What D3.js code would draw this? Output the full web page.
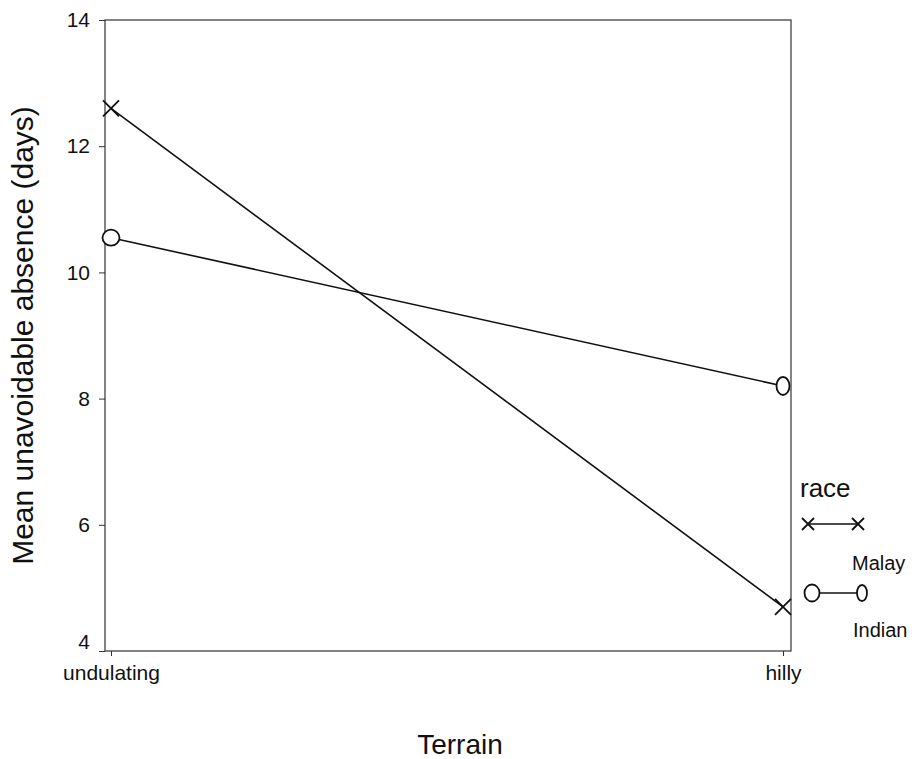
<!DOCTYPE html>
<html><head><meta charset="utf-8">
<script src="https://cdn.jsdelivr.net/npm/d3@7"></script>
<style>body{margin:0;background:#fff;} svg{display:block;font-family:"Liberation Sans",Arial,sans-serif;}</style>
</head><body>
<script>
const terrain = ["undulating", "hilly"];
const malay = [12.6, 4.7];
const indian = [10.55, 8.2];
const yTicks = [4, 6, 8, 10, 12, 14];
const seriesNames = ["Malay", "Indian"];

const W = 918, H = 759;
const mLeft = 105, mRight = 791, mTop = 20, mBottom = 651;
const FONT = "Liberation Sans, Arial, sans-serif";
const svg = d3.select("body").append("svg").attr("width", W).attr("height", H);

const x = d3.scalePoint().domain(terrain).range([mLeft + 6, mRight - 8]).padding(0);
const y = d3.scaleLinear().domain([4, 14]).range([mBottom, mTop]);

// frame
svg.append("rect").attr("x", mLeft).attr("y", mTop).attr("width", mRight - mLeft).attr("height", mBottom - mTop)
  .attr("fill", "none").attr("stroke", "#333").attr("stroke-width", 1.2);

const yAxis = svg.append("g").attr("transform", `translate(${mLeft},0)`)
  .call(d3.axisLeft(y).tickValues(yTicks).tickSize(6).tickPadding(9).tickFormat(d3.format("d")));
yAxis.select(".domain").remove();
yAxis.selectAll("text").attr("font-size", 21).attr("fill", "#111").attr("font-family", FONT)
  .attr("dy", d => d === 4 ? "-0.1em" : "0.32em");
yAxis.selectAll("line").attr("stroke", "#333");

const xAxis = svg.append("g").attr("transform", `translate(0,${mBottom})`)
  .call(d3.axisBottom(x).tickSize(5).tickPadding(9));
xAxis.select(".domain").remove();
xAxis.selectAll("text").attr("font-size", 21).attr("fill", "#111").attr("font-family", FONT);
xAxis.selectAll("line").attr("stroke", "#333");

// axis titles
svg.append("text").attr("transform", `translate(33,${(mTop + mBottom) / 2}) rotate(-90)`)
  .attr("text-anchor", "middle").attr("font-size", 30).attr("fill", "#111")
  .text("Mean unavoidable absence (days)");
svg.append("text").attr("x", 460).attr("y", 754).attr("text-anchor", "middle")
  .attr("font-size", 28).attr("fill", "#111").text("Terrain");

const line = d3.line().x((d, i) => x(terrain[i])).y(d => y(d));

function cross(g, cx, cy, s) {
  g.append("path").attr("d", `M${cx - s},${cy - s}L${cx + s},${cy + s}M${cx - s},${cy + s}L${cx + s},${cy - s}`)
    .attr("stroke", "#111").attr("stroke-width", 1.8).attr("fill", "none");
}
function ring(g, cx, cy, rx, ry) {
  g.append("ellipse").attr("cx", cx).attr("cy", cy).attr("rx", rx).attr("ry", ry)
    .attr("fill", "#fff").attr("stroke", "#111").attr("stroke-width", 1.8);
}

svg.append("path").datum(malay).attr("d", line).attr("fill", "none").attr("stroke", "#111").attr("stroke-width", 1.6);
svg.append("path").datum(indian).attr("d", line).attr("fill", "none").attr("stroke", "#111").attr("stroke-width", 1.6);
const mk = svg.append("g");
malay.forEach((v, i) => cross(mk, x(terrain[i]), y(v), 8));
indian.forEach((v, i) => ring(mk, x(terrain[i]), y(v), i === 0 ? 8.5 : 6.5, i === 0 ? 8 : 9));

// legend
const lg = svg.append("g");
lg.append("text").attr("x", 800).attr("y", 497).attr("font-size", 26).attr("fill", "#111").text("race");
lg.append("line").attr("x1", 808).attr("x2", 858).attr("y1", 524).attr("y2", 524).attr("stroke", "#111").attr("stroke-width", 1.4);
cross(lg, 808, 524, 6); cross(lg, 858, 524, 6);
lg.append("text").attr("x", 852).attr("y", 570).attr("font-size", 20).attr("fill", "#111").text(seriesNames[0]);
lg.append("line").attr("x1", 812).attr("x2", 862).attr("y1", 593).attr("y2", 593).attr("stroke", "#111").attr("stroke-width", 1.4);
ring(lg, 812, 593, 7.5, 8.5); ring(lg, 862, 593, 5, 8);
lg.append("text").attr("x", 853).attr("y", 637).attr("font-size", 20).attr("fill", "#111").text(seriesNames[1]);
</script>
</body></html>
